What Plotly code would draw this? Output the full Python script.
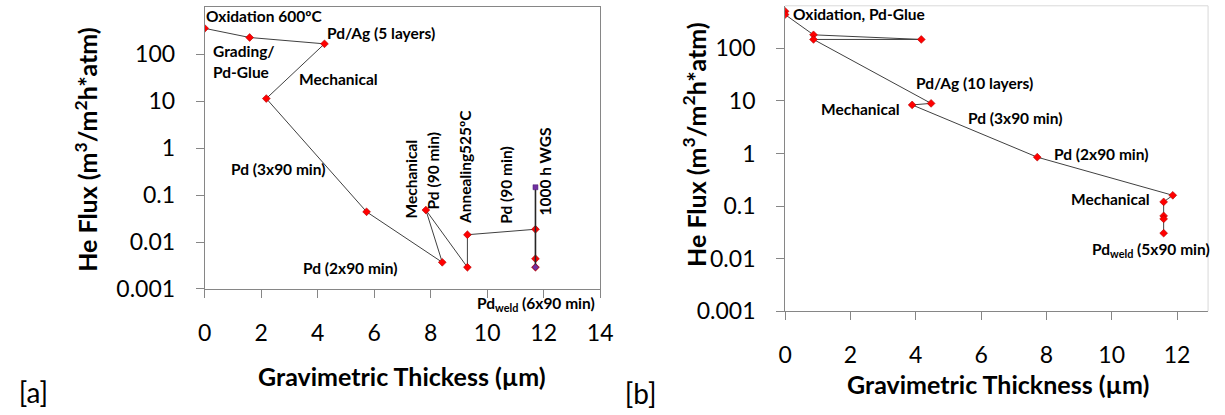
import plotly.graph_objects as go

W, H = 1225, 415

# Panel [a]: He flux vs gravimetric thickness through the preparation steps
a_thick = [0.0, 1.59, 4.24, 2.18, 5.73, 8.41, 7.83, 9.30, 9.30, 11.71, 11.71, 11.71]
a_flux = [357, 228, 167, 11.4, 0.044, 0.0037, 0.048, 0.0029, 0.0143, 0.0187, 0.0044, 0.0029]
# after 1000 h in water-gas-shift
a_wgs_thick = [11.71, 11.71]
a_wgs_flux = [0.147, 0.0029]

# Panel [b]
b_thick = [0.0, 0.0, 0.87, 4.17, 0.87, 4.47, 3.89, 7.72, 11.87, 11.59, 11.59, 11.59, 11.59]
b_flux = [503, 437, 180, 147, 147, 8.95, 8.37, 0.85, 0.16, 0.12, 0.065, 0.057, 0.0305]

y_tick_vals = [0.001, 0.01, 0.1, 1, 10, 100]
y_tick_text = ["0.001", "0.01", "0.1", "1", "10", "100"]
x_ticks_a = [0, 2, 4, 6, 8, 10, 12, 14]
x_ticks_b = [0, 2, 4, 6, 8, 10, 12]

panel_letters = ["[a]", "[b]"]

FONT = "Lato"
AXIS_GREY = "#868686"


def fx(px):
    return px / W


def fy(py):
    return 1 - py / H


fig = go.Figure()

marker_red = dict(symbol="diamond", size=6, color="#FF0000",
                  line=dict(color="#B00000", width=0.6))

fig.add_trace(go.Scatter(x=a_thick, y=a_flux, mode="lines+markers",
                         line=dict(color="#404040", width=1),
                         marker=marker_red, xaxis="x", yaxis="y"))
fig.add_trace(go.Scatter(x=a_wgs_thick, y=a_wgs_flux, mode="lines+markers",
                         line=dict(color="#262626", width=1.6),
                         marker=dict(symbol=["square", "diamond"], size=5,
                                     color="#7030A0",
                                     line=dict(color="#4B1F70", width=0.5)),
                         xaxis="x", yaxis="y"))
fig.add_trace(go.Scatter(x=b_thick, y=b_flux, mode="lines+markers",
                         line=dict(color="#404040", width=1),
                         marker=marker_red, xaxis="x2", yaxis="y2"))

# panel letters on a full-page pixel overlay so they can sit at the very bottom edge
fig.add_trace(go.Scatter(x=[12, 628], y=[409, 410], mode="text", text=panel_letters,
                         textposition="middle right", cliponaxis=False,
                         textfont=dict(family=FONT, size=28, color="#000000"),
                         xaxis="x3", yaxis="y3", hoverinfo="skip"))

tickfont = dict(family=FONT, size=23, color="#000000")
common_x = dict(showgrid=False, zeroline=False, showline=True, linecolor=AXIS_GREY,
                linewidth=1, ticks="outside", ticklen=8, tickcolor=AXIS_GREY,
                tickfont=tickfont, ticklabelstandoff=15)
common_y = dict(type="log", showgrid=False, zeroline=False, showline=True,
                linecolor=AXIS_GREY, linewidth=1, ticks="outside", ticklen=8,
                tickcolor=AXIS_GREY, tickfont=tickfont, tickvals=y_tick_vals,
                ticktext=y_tick_text, ticklabelstandoff=16)

fig.update_layout(
    width=W, height=H, margin=dict(l=0, r=0, t=0, b=0),
    paper_bgcolor="white", plot_bgcolor="rgba(0,0,0,0)", showlegend=False,
    xaxis=dict(common_x, domain=[fx(201), fx(603)], range=[0, 14],
               tickvals=x_ticks_a, mirror=True, anchor="y"),
    yaxis=dict(common_y, domain=[fy(298.3), fy(7.6)], range=[-3, 3],
               mirror=True, anchor="x"),
    xaxis2=dict(common_x, domain=[fx(791), fx(1221)], range=[0, 12.95],
                tickvals=x_ticks_b, anchor="y2"),
    yaxis2=dict(common_y, domain=[fy(321.3), fy(6)], range=[-3, 2.807],
                anchor="x2"),
    xaxis3=dict(domain=[0, 1], range=[0, W], visible=False, anchor="y3"),
    yaxis3=dict(domain=[0, 1], range=[H, 0], visible=False, anchor="x3"),
)

# light frame on the top and right of panel [b]
fig.add_shape(type="line", xref="paper", yref="paper", x0=fx(791), x1=fx(1221),
              y0=fy(6), y1=fy(6), line=dict(color="#D9D9D9", width=1))
fig.add_shape(type="line", xref="paper", yref="paper", x0=fx(1221), x1=fx(1221),
              y0=fy(6), y1=fy(321.3), line=dict(color="#D9D9D9", width=1))

lab_font = dict(family=FONT, size=15.5, color="#000000", weight="bold")


def label(text, x, y, xanchor="left", angle=0, font=lab_font):
    fig.add_annotation(text=text, x=fx(x), y=fy(y), xref="paper", yref="paper",
                       xanchor=xanchor, yanchor="middle", textangle=angle,
                       showarrow=False, font=font, borderpad=0)


# panel [a] step labels
label("Oxidation 600ºC", 201, 17)
label("Pd/Ag (5 layers)", 324, 34)
label("Grading/", 208, 53)
label("Pd-Glue", 208, 74)
label("Mechanical", 296, 82)
label("Pd (3x90 min)", 227, 174)
label("Pd (2x90 min)", 300, 277)
label("Mechanical", 411, 185, "center", -90)
label("Pd (90 min)", 434, 176, "center", -90)
label("Annealing525ºC", 465, 172, "center", -90)
label("Pd (90 min)", 507, 191, "center", -90)
label("1000 h WGS", 547, 177, "center", -90)
label("Pd<sub>weld</sub> (6x90 min)", 477, 314)

# panel [b] step labels
label("Oxidation, Pd-Glue", 798, 14)
label("Pd/Ag (10 layers)", 923, 86)
label("Mechanical", 826, 113)
label("Pd (3x90 min)", 976, 122)
label("Pd (2x90 min)", 1063, 159)
label("Mechanical", 1081, 205)
label("Pd<sub>weld</sub> (5x90 min)", 1102, 258)

# axis titles
title_font = dict(family=FONT, size=25, color="#000000", weight="bold")
label("Gravimetric Thickess (µm)", 402, 388, "center", 0, title_font)
label("Gravimetric Thickness (µm)", 1007, 396, "center", 0, title_font)
label("He Flux (m<sup>3</sup>/m<sup>2</sup>h*atm)", 80, 154, "center", -90, title_font)
label("He Flux (m<sup>3</sup>/m<sup>2</sup>h*atm)", 699, 149, "center", -90, title_font)

fig.write_html("out.html")
